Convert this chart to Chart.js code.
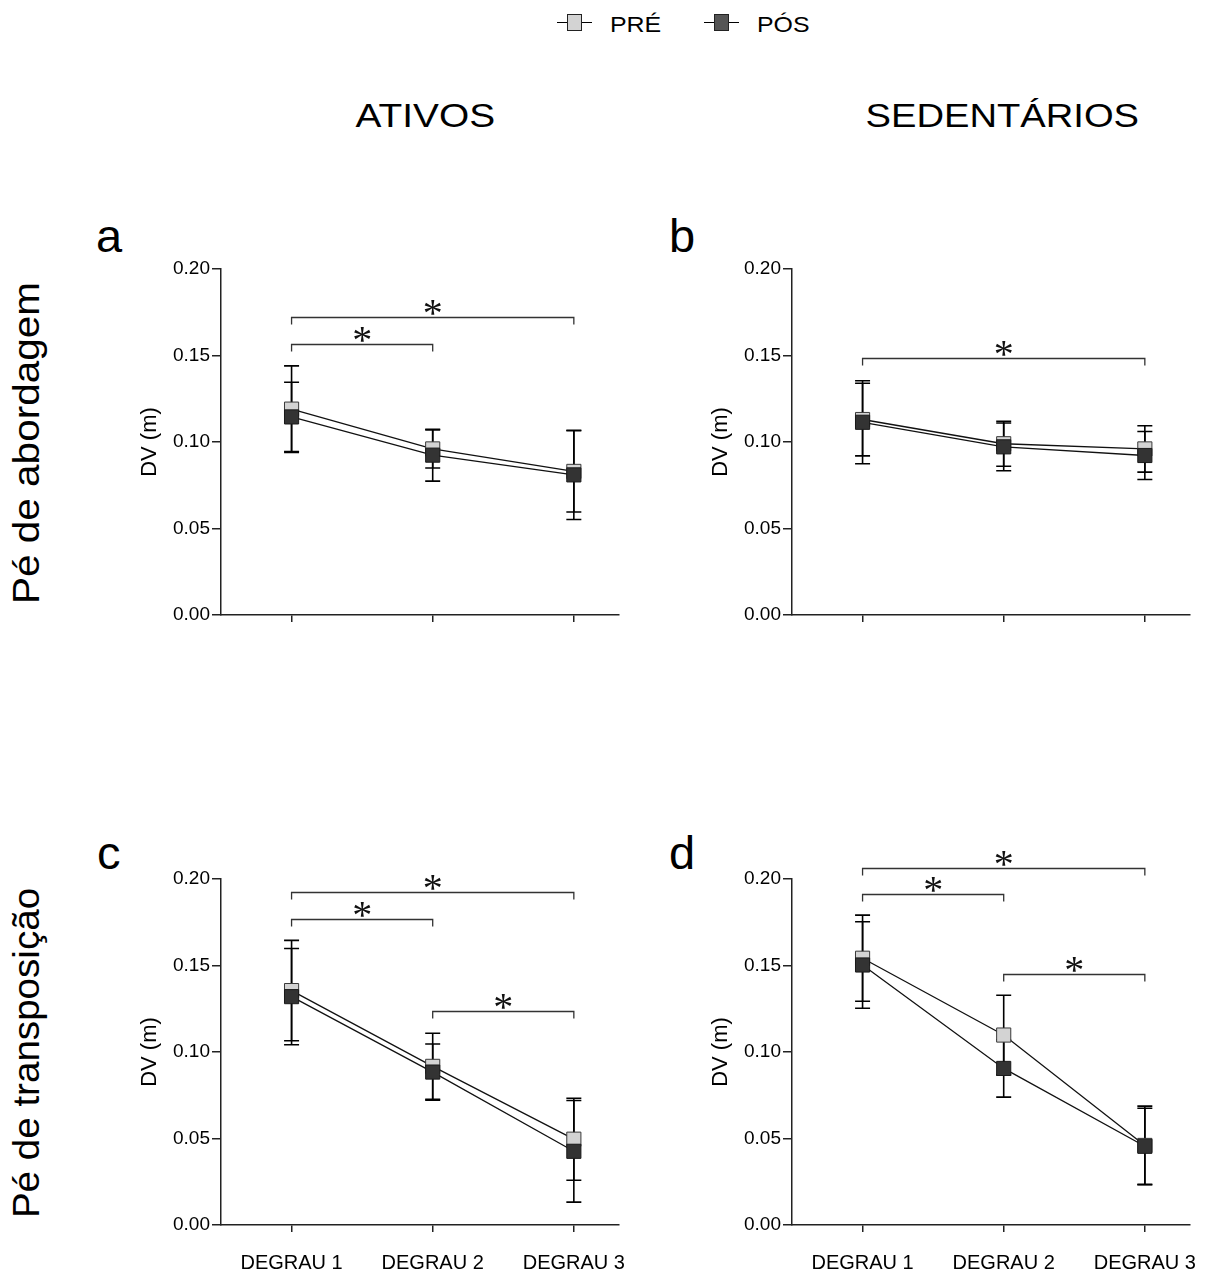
<!DOCTYPE html>
<html><head><meta charset="utf-8">
<script src="https://cdn.jsdelivr.net/npm/chart.js@4.4.1/dist/chart.umd.min.js"></script>
<style>
html,body{margin:0;padding:0;background:#fff;}
body{width:1216px;height:1272px;position:relative;overflow:hidden;font-family:"Liberation Sans",Arial,sans-serif;}
canvas{position:absolute;}
.t{position:absolute;white-space:nowrap;line-height:1;color:#000;transform-origin:center center;font-family:"Liberation Sans",Arial,sans-serif;}
.lg-line{position:absolute;height:0;border-top:1.5px solid #000;}
.lg-box{position:absolute;border:1px solid #222;box-sizing:border-box;}
</style></head><body>
<canvas id="pa" width="500" height="440" style="left:130px;top:229px"></canvas>
<canvas id="pb" width="500" height="440" style="left:701px;top:229px"></canvas>
<canvas id="pc" width="500" height="440" style="left:130px;top:839px"></canvas>
<canvas id="pd" width="500" height="440" style="left:701px;top:839px"></canvas>
<script>
// ---------- data ----------
const categories = ['DEGRAU 1', 'DEGRAU 2', 'DEGRAU 3'];
const seriesNames = ['PRÉ', 'PÓS'];
const yTicks = [0, 0.05, 0.10, 0.15, 0.20];
const groupTitles = ['ATIVOS', 'SEDENTÁRIOS'];
const rowTitles = ['Pé de abordagem', 'Pé de transposição'];
const panelLetters = ['a', 'b', 'c', 'd'];
const yTitle = 'DV (m)';

// panel a: ativos, pé de abordagem
const aPre = [0.119, 0.096, 0.083];
const aPreSd = [0.025, 0.011, 0.0235];
const aPos = [0.1145, 0.0924, 0.081];
const aPosSd = [0.020, 0.015, 0.0258];
const aSig = [[1, 3, 0.172], [1, 2, 0.1566]];

// panel b: sedentários, pé de abordagem
const bPre = [0.113, 0.099, 0.096];
const bPreSd = [0.021, 0.013, 0.0134];
const bPos = [0.1114, 0.0972, 0.0922];
const bPosSd = [0.024, 0.0138, 0.0139];
const bSig = [[1, 3, 0.1483]];

// panel c: ativos, pé de transposição
const cPre = [0.1355, 0.0917, 0.0496];
const cPreSd = [0.029, 0.0191, 0.0237];
const cPos = [0.132, 0.0884, 0.0426];
const cPosSd = [0.0278, 0.0162, 0.0294];
const cSig = [[1, 3, 0.1923], [1, 2, 0.1768], [2, 3, 0.1235]];

// panel d: sedentários, pé de transposição
const dPre = [0.1542, 0.1098, 0.046];
const dPreSd = [0.0249, 0.023, 0.0227];
const dPos = [0.1503, 0.0905, 0.0455];
const dPosSd = [0.025, 0.0166, 0.022];
const dSig = [[1, 3, 0.2065], [1, 2, 0.1915], [2, 3, 0.1451]];

// ---------- chart ----------
const FONT = '"Liberation Sans", Arial, sans-serif';
Chart.defaults.font.family = FONT;

const errorBarPlugin = {
  id: 'errorBars',
  beforeDatasetsDraw(chart) {
    const ctx = chart.ctx, xs = chart.scales.x, ys = chart.scales.y;
    ctx.save();
    ctx.strokeStyle = '#000';
    ctx.lineWidth = 1.6;
    chart.data.datasets.forEach(ds => {
      ds.data.forEach((p, i) => {
        const x = xs.getPixelForValue(p.x);
        const hi = ys.getPixelForValue(p.y + ds.sd[i]);
        const lo = ys.getPixelForValue(p.y - ds.sd[i]);
        ctx.beginPath();
        ctx.moveTo(x, hi); ctx.lineTo(x, lo);
        ctx.moveTo(x - 7.5, hi); ctx.lineTo(x + 7.5, hi);
        ctx.moveTo(x - 7.5, lo); ctx.lineTo(x + 7.5, lo);
        ctx.stroke();
      });
    });
    ctx.restore();
  }
};

function bracketPlugin(items) {
  return {
    id: 'sigBrackets',
    afterDatasetsDraw(chart) {
      const ctx = chart.ctx, xs = chart.scales.x, ys = chart.scales.y;
      ctx.save();
      ctx.strokeStyle = '#333';
      ctx.lineWidth = 1.3;
      ctx.font = '40px "Liberation Serif", "Times New Roman", serif';
      ctx.fillStyle = '#111';
      ctx.textAlign = 'center';
      ctx.textBaseline = 'alphabetic';
      items.forEach(([a, b, v]) => {
        const x1 = xs.getPixelForValue(a), x2 = xs.getPixelForValue(b);
        const y = Math.round(ys.getPixelForValue(v)) + 0.5;
        ctx.beginPath();
        ctx.moveTo(x1, y + 7); ctx.lineTo(x1, y); ctx.lineTo(x2, y); ctx.lineTo(x2, y + 7);
        ctx.stroke();
        const m = ctx.measureText('*');
        const target = y - 10;
        const base = target - (m.actualBoundingBoxDescent - m.actualBoundingBoxAscent) / 2;
        ctx.fillText('*', (x1 + x2) / 2, base);
      });
      ctx.restore();
    }
  };
}

function toPts(arr) { return arr.map((v, i) => ({ x: i + 1, y: v })); }

function makePanel(id, pre, preSd, pos, posSd, sig, showLabels) {
  new Chart(document.getElementById(id), {
    type: 'line',
    data: {
      datasets: [
        { label: seriesNames[1], data: toPts(pos), sd: posSd, order: 0,
          borderColor: '#111', borderWidth: 1.3, tension: 0, fill: false,
          pointStyle: 'rect', pointRadius: 10, pointHoverRadius: 10,
          pointBackgroundColor: '#333', pointBorderColor: '#1a1a1a', pointBorderWidth: 1 },
        { label: seriesNames[0], data: toPts(pre), sd: preSd, order: 1,
          borderColor: '#111', borderWidth: 1.3, tension: 0, fill: false,
          pointStyle: 'rect', pointRadius: 10, pointHoverRadius: 10,
          pointBackgroundColor: '#d3d3d3', pointBorderColor: '#3a3a3a', pointBorderWidth: 1 }
      ]
    },
    options: {
      responsive: false, animation: false, devicePixelRatio: 1, events: [],
      layout: { padding: { top: 40, right: 10, left: 0, bottom: 0 } },
      plugins: { legend: { display: false }, tooltip: { enabled: false } },
      scales: {
        x: {
          type: 'linear', min: 0.5, max: 3.32, bounds: 'data',
          afterBuildTicks: s => { s.ticks = [1, 2, 3].map(v => ({ value: v })); },
          afterFit: s => { s.height = 54; s.paddingLeft = 0; s.paddingRight = 0; },
          grid: { drawOnChartArea: false, drawTicks: true, tickLength: 7, color: '#222', lineWidth: 1.5 },
          border: { display: true, color: '#222', width: 1.5 },
          ticks: { padding: 19, color: '#000', font: { size: 20 }, maxRotation: 0, autoSkip: false,
                   callback: v => showLabels ? categories[Math.round(v) - 1] : '' }
        },
        y: {
          min: 0, max: 0.2,
          afterBuildTicks: s => { s.ticks = yTicks.map(v => ({ value: v })); },
          afterFit: s => { s.width = 91; s.paddingTop = 0; s.paddingBottom = 0; },
          grid: { drawOnChartArea: false, drawTicks: true, tickLength: 9, color: '#222', lineWidth: 1.5 },
          border: { display: true, color: '#222', width: 1.5 },
          ticks: { padding: 2, color: '#000', font: { size: 19 }, autoSkip: false,
                   callback: v => Number(v).toFixed(2) },
          title: { display: true, text: yTitle, color: '#000', font: { size: 22 }, padding: { top: 7, bottom: 0 } }
        }
      }
    },
    plugins: [errorBarPlugin, bracketPlugin(sig)]
  });
}

makePanel('pa', aPre, aPreSd, aPos, aPosSd, aSig, false);
makePanel('pb', bPre, bPreSd, bPos, bPosSd, bSig, false);
makePanel('pc', cPre, cPreSd, cPos, cPosSd, cSig, true);
makePanel('pd', dPre, dPreSd, dPos, dPosSd, dSig, true);

// ---------- text ----------
function placeText(str, o) {
  const el = document.createElement('div');
  el.className = 't';
  el.textContent = str;
  el.style.fontSize = o.size + 'px';
  document.body.appendChild(el);
  const w = el.offsetWidth, h = el.offsetHeight;
  const sx = o.width ? o.width / w : 1;
  el.style.left = (o.x - w / 2) + 'px';
  if (o.rotate) {
    el.style.top = (o.y - h / 2) + 'px';
    el.style.transform = 'rotate(-90deg) scaleX(' + sx + ')';
  } else {
    el.style.top = (o.y - 0.8465 * o.size) + 'px';
    el.style.transform = 'scaleX(' + sx + ')';
  }
}

placeText(groupTitles[0], { x: 425.8, y: 127.3, size: 33, width: 140 });
placeText(groupTitles[1], { x: 1002.5, y: 127.3, size: 33, width: 274 });
placeText(rowTitles[0], { x: 27, y: 443, size: 36, width: 322, rotate: true });
placeText(rowTitles[1], { x: 27, y: 1052.5, size: 36, width: 330, rotate: true });
placeText(panelLetters[0], { x: 109, y: 251.5, size: 47 });
placeText(panelLetters[1], { x: 682, y: 251.5, size: 47 });
placeText(panelLetters[2], { x: 109, y: 868.3, size: 47 });
placeText(panelLetters[3], { x: 682, y: 868.3, size: 47 });

// legend
function legendItem(cx, fill, label, tx, tw) {
  const ln = document.createElement('div');
  ln.className = 'lg-line';
  ln.style.left = (cx - 17.5) + 'px'; ln.style.top = '21.5px'; ln.style.width = '35px';
  document.body.appendChild(ln);
  const bx = document.createElement('div');
  bx.className = 'lg-box';
  bx.style.left = (cx - 7.5) + 'px'; bx.style.top = '13.5px';
  bx.style.width = '15px'; bx.style.height = '17px';
  bx.style.background = fill;
  document.body.appendChild(bx);
  placeText(label, { x: tx, y: 32.3, size: 22, width: tw });
}
legendItem(574.2, '#d3d3d3', seriesNames[0], 635.3, 51);
legendItem(721.5, '#555', seriesNames[1], 782.9, 52);
</script>
</body></html>
